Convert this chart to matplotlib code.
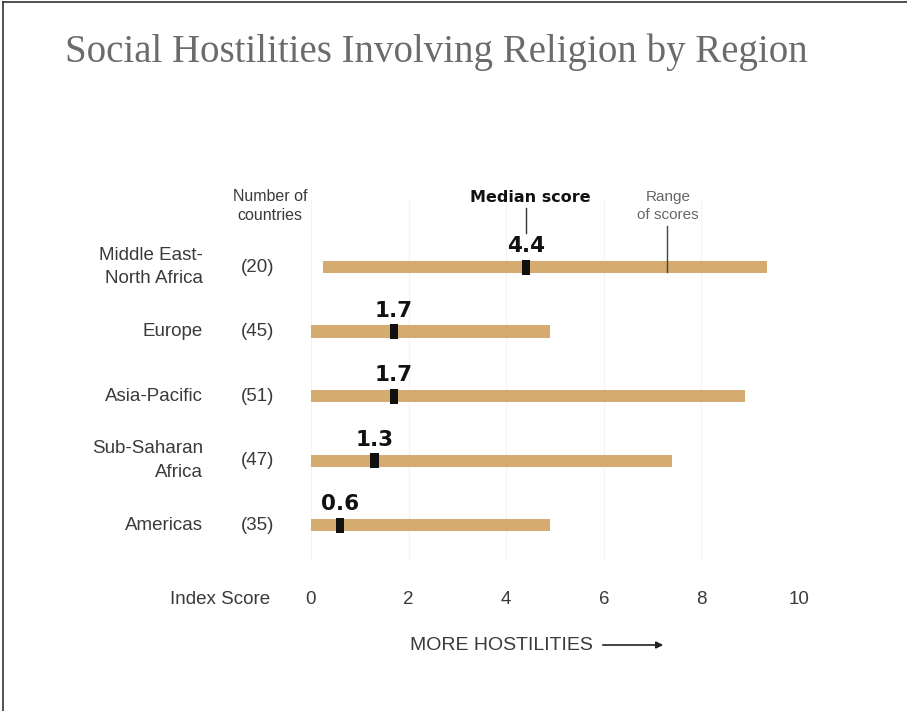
import matplotlib
matplotlib.use("Agg")
import matplotlib.pyplot as plt
from matplotlib.lines import Line2D
from matplotlib.transforms import blended_transform_factory

plt.rcParams['font.family'] = ['Liberation Sans', 'DejaVu Sans']

regions = ["Middle East-\nNorth Africa", "Europe", "Asia-Pacific",
           "Sub-Saharan\nAfrica", "Americas"]
counts = [20, 45, 51, 47, 35]
range_lo = [0.25, 0.0, 0.0, 0.0, 0.0]
range_hi = [9.35, 4.9, 8.9, 7.4, 4.9]
medians = [4.4, 1.7, 1.7, 1.3, 0.6]
ticks = [0, 2, 4, 6, 8, 10]

bar_color = "#d6ab70"
text_color = "#3a3a3a"

W, H = 907, 711
fig = plt.figure(figsize=(W / 100, H / 100), dpi=100)
fig.patch.set_facecolor("white")

# frame lines on the left and top edges
fig.add_artist(Line2D([3 / W, 3 / W], [0, 1 - 2 / H], color="#333333", lw=1.2))
fig.add_artist(Line2D([3 / W, 1], [1 - 2 / H, 1 - 2 / H], color="#333333", lw=1.2))

fig.text(65 / W, 1 - 52 / H, "Social Hostilities Involving Religion by Region",
         family="Liberation Serif", fontsize=28, color="#6b6b6b",
         ha="left", va="center")

# axes: x 0..10 spans pixels 311..799, rows at 267 + 64.5*i
ax = fig.add_axes([311 / W, 1 - 560 / H, 488 / W, 360 / H])
ax.set_xlim(0, 10)
ax.set_ylim(4.54, -1.04)
for s in ax.spines.values():
    s.set_visible(False)
ax.set_yticks([])
ax.set_xticks(ticks)
ax.set_xticklabels([str(t) for t in ticks], fontsize=13.5, color=text_color)
ax.tick_params(axis="x", length=0, pad=22)
for t in ticks:
    ax.axvline(t, color="#f3f3f3", lw=0.8, zorder=0)

rows = range(len(regions))
ax.barh(list(rows), [h - l for l, h in zip(range_lo, range_hi)], left=range_lo,
        height=0.19, color=bar_color, zorder=2)
ax.barh(list(rows), [0.17] * len(medians), left=[m - 0.085 for m in medians],
        height=0.23, color="#111111", zorder=3)

for i, m in enumerate(medians):
    ax.text(m, i - 0.17, f"{m}", ha="center", va="bottom", fontsize=15.5,
            fontweight="bold", color="#111111", family="DejaVu Sans")

tr = blended_transform_factory(fig.transFigure, ax.transData)
for i, (name, c) in enumerate(zip(regions, counts)):
    ax.text(203 / W, i, name, transform=tr, ha="right", va="center",
            fontsize=13.5, color=text_color, linespacing=1.5)
    ax.text(258 / W, i, f"({c})", transform=tr, ha="center", va="center",
            fontsize=13.5, color=text_color)

fig.text(270 / W, 1 - 206 / H, "Number of\ncountries", ha="center", va="center",
         fontsize=11.5, color=text_color, linespacing=1.3)

# callouts for median and range
fig.text(530 / W, 1 - 197 / H, "Median score", ha="center", va="center",
         fontsize=11.5, fontweight="bold", color="#111111", family="DejaVu Sans")
ax.plot([4.4, 4.4], [-0.91, -0.53], color="#333333", lw=1, zorder=4)
fig.text(668 / W, 1 - 206 / H, "Range\nof scores", ha="center", va="center",
         fontsize=11, color="#666666", linespacing=1.3)
ax.plot([7.3, 7.3], [-0.64, 0.08], color="#444444", lw=1, zorder=4)

fig.text(270 / W, 1 - 600 / H, "Index Score", ha="right", va="center",
         fontsize=13.5, color=text_color)
fig.text(410 / W, 1 - 645 / H, "MORE HOSTILITIES", ha="left", va="center",
         fontsize=14, color=text_color)
fig.add_artist(matplotlib.patches.FancyArrowPatch(
    (600 / W, 1 - 645 / H), (666 / W, 1 - 645 / H), transform=fig.transFigure,
    arrowstyle="-|>,head_length=4,head_width=2", color="#222222", lw=1.2))

fig.savefig("out.png", dpi=100)
